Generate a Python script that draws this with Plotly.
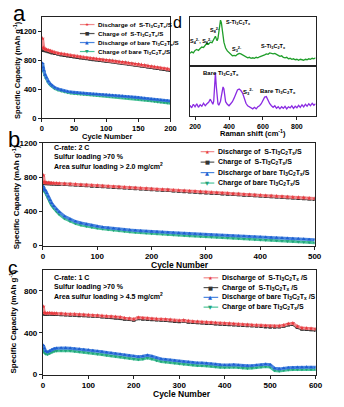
import plotly.graph_objects as go

W, H = 344, 407

# ---------------- data ----------------
# Panel a (cycling, 200 cycles)
a_cycles = [1, 2, 3, 5, 7, 10, 13, 16, 20, 25, 30, 35, 40, 45, 50, 55, 60, 65, 70, 75, 80, 85, 90, 95, 100,
            105, 110, 115, 120, 125, 130, 135, 140, 145, 150, 155, 160, 165, 170, 175, 180, 185, 190, 195, 200]
a_dis_S = [1100, 975, 962, 952, 946, 937, 928, 918, 908,
           898, 890, 882, 874, 866, 859, 853, 846, 840, 835, 829, 823, 818, 813, 808, 803, 798, 793, 787, 781,
           775, 770, 764, 757, 751, 745, 738, 731, 724, 716, 709, 702, 695, 688, 681, 673]
a_chg_S = [940, 945, 940, 935, 930, 922, 914, 905, 896,
           886, 878, 870, 862, 855, 848, 842, 836, 830, 824, 818, 812, 807, 802, 797, 792, 787, 782, 776, 770,
           764, 758, 752, 746, 740, 733, 726, 719, 712, 705, 698, 691, 684, 677, 670, 663]
a_dis_bare = [760, 700, 660, 600, 560, 510, 475, 450, 425,
              405, 390, 378, 370, 362, 356, 352, 348, 345, 342, 338, 335, 333, 330, 328, 325, 322, 318, 315, 311,
              307, 303, 299, 295, 291, 287, 282, 277, 272, 267, 262, 257, 252, 248, 244, 240]
a_chg_bare = [740, 680, 640, 585, 545, 495, 462, 438, 412,
              392, 378, 366, 358, 350, 344, 340, 336, 333, 330, 326, 322, 319, 316, 313, 310, 306, 302, 298, 294,
              290, 285, 280, 276, 271, 266, 260, 254, 248, 242, 236, 230, 225, 220, 215, 210]

# Panel b (2 C, 500 cycles)
b_cycles = [1, 2, 3, 5, 7, 10, 13, 16, 20, 25, 30,
            40, 50, 60, 70, 80, 90, 100, 110, 120, 130, 140, 150, 160, 170, 180, 190, 200, 210, 220, 230,
            240, 250, 260, 270, 280, 290, 300, 310, 320, 330, 340, 350, 360, 370, 380, 390, 400, 410, 420, 430,
            440, 450, 460, 470, 480, 490, 500]
b_dis_S = [820, 742, 736, 735, 734, 733, 731, 730, 729, 727, 726,
           722, 719, 716, 711, 708, 704, 701, 696, 693, 689, 686, 681, 678, 674, 670, 667, 662, 659, 655, 652,
           647, 644, 640, 636, 633, 628, 625, 621, 618, 613, 610, 606, 603, 598, 595, 591, 588, 583, 580, 576,
           573, 568, 565, 561, 558, 553, 549]
b_chg_S = [725, 735, 728, 727, 726, 725, 724, 723, 721, 720, 718,
           715, 712, 709, 704, 701, 697, 694, 689, 686, 682, 679, 674, 671, 667, 663, 660, 655, 652, 648, 645,
           640, 637, 633, 629, 626, 621, 618, 614, 611, 606, 603, 599, 596, 591, 588, 584, 581, 576, 573, 569,
           566, 561, 558, 554, 551, 546, 542]
b_dis_bare = [690, 662, 652, 642, 612, 572, 532, 497, 462, 422, 392,
              340, 306, 281, 263, 248, 236, 225, 215, 207, 200, 193, 187, 182, 177, 172, 168, 164, 160, 157, 153,
              150, 146, 143, 140, 136, 133, 130, 127, 124, 121, 118, 115, 112, 109, 106, 103, 100, 97, 94, 91,
              88, 85, 81, 78, 75, 71, 68]
b_chg_bare = [672, 647, 632, 617, 587, 547, 507, 472, 437, 397, 367,
              316, 283, 258, 240, 226, 214, 204, 195, 187, 180, 173, 167, 161, 156, 151, 146, 142, 138, 134, 130,
              126, 122, 118, 114, 111, 107, 104, 100, 97, 93, 90, 86, 83, 79, 76, 72, 69, 65, 62, 58,
              55, 51, 48, 44, 41, 37, 34]

# Panel c (1 C, 600 cycles)
c_cycles = [1, 3, 6, 10, 15, 20, 25, 30,
            40, 50, 60, 70, 80, 90, 100, 110, 120, 130, 140, 150, 160, 170, 180, 190, 200, 210, 220, 230,
            240, 250, 260, 270, 280, 290, 300, 310, 320, 330, 340, 350, 360, 370, 380, 390, 400, 410, 420, 430,
            440, 450, 460, 470, 480, 490, 500, 510, 520, 530, 540, 550, 560, 570, 580, 590, 600]
c_dis_S = [650, 592, 586, 588, 590, 587, 585, 585,
           583, 580, 578, 577, 574, 572, 570, 568, 565, 562, 558, 556, 552, 548, 540, 537, 530, 545, 540, 538,
           535, 532, 530, 528, 525, 518, 515, 520, 512, 508, 506, 503, 500, 498, 495, 492, 490, 488, 485, 482,
           480, 477, 474, 472, 470, 466, 463, 462, 465, 472, 485, 490, 460, 445, 442, 440, 435]
c_chg_S = [600, 580, 578, 580, 582, 580, 578, 578,
           575, 572, 570, 569, 566, 564, 562, 560, 557, 554, 550, 548, 544, 540, 532, 529, 522, 537, 532, 530,
           527, 524, 522, 520, 517, 510, 507, 512, 504, 500, 498, 495, 492, 490, 487, 484, 482, 480, 477, 474,
           472, 469, 466, 464, 462, 458, 455, 454, 457, 464, 477, 482, 452, 437, 434, 432, 427]
c_dis_bare = [280, 250, 225, 215, 225, 240, 248, 252,
              255, 254, 252, 248, 244, 240, 236, 230, 224, 218, 212, 206, 200, 195, 188, 182, 176, 170, 175, 185,
              175, 160, 150, 145, 140, 135, 128, 124, 120, 116, 112, 110, 108, 104, 98, 94, 90, 92, 95, 90,
              86, 84, 86, 90, 94, 100, 95, 60, 55, 62, 66, 68, 70, 70, 72, 70, 70]
c_chg_bare = [240, 215, 200, 195, 205, 218, 225, 228,
              230, 229, 227, 223, 219, 215, 210, 204, 198, 192, 186, 180, 174, 169, 162, 156, 150, 145, 150, 160,
              150, 135, 126, 121, 116, 111, 104, 100, 96, 92, 88, 86, 84, 80, 75, 71, 68, 70, 72, 68,
              64, 62, 64, 68, 72, 78, 72, 40, 35, 42, 46, 48, 50, 50, 52, 50, 50]

# Panel d (Raman, normalised intensity within each sub-panel)
raman_x = [170, 180, 190, 200, 210, 220, 230, 240, 250, 260, 270, 280, 290, 300,
           305, 310, 315, 320, 325, 330, 335, 340, 345, 350, 355, 360, 365, 370, 375, 380,
           390, 400, 410, 420, 430, 440, 450, 460, 470, 480, 490, 500, 510, 520, 530, 540, 550, 560, 570, 580,
           590, 600, 610, 620, 630, 640, 650, 660, 670, 680, 690, 700, 710, 720, 730, 740, 750, 760, 770, 780,
           790, 800, 810, 820, 830, 840, 850, 860, 870, 880, 890, 900, 910]
raman_S = [0.25, 0.28, 0.26, 0.31, 0.33, 0.31, 0.35, 0.38, 0.37, 0.42, 0.46, 0.44, 0.48, 0.47,
           0.50, 0.54, 0.58, 0.60, 0.55, 0.51, 0.56, 0.68, 0.84, 0.93, 0.88, 0.72, 0.58, 0.48, 0.42, 0.36,
           0.30, 0.26, 0.22, 0.20, 0.21, 0.20, 0.23, 0.25, 0.24, 0.22, 0.19, 0.17, 0.16, 0.17, 0.15, 0.16,
           0.15, 0.17, 0.16, 0.18, 0.19, 0.21, 0.22, 0.24, 0.23, 0.26, 0.25, 0.24, 0.25, 0.22, 0.21, 0.19,
           0.20, 0.17, 0.16, 0.17, 0.14, 0.15, 0.13, 0.14, 0.12, 0.13, 0.11, 0.13, 0.12, 0.11, 0.13, 0.12,
           0.14, 0.13, 0.15, 0.14, 0.16]
raman_bare = [0.22, 0.17, 0.24, 0.19, 0.25, 0.18, 0.23, 0.20, 0.26, 0.21, 0.25, 0.28, 0.34, 0.27,
              0.24, 0.30, 0.52, 0.86, 0.60, 0.34, 0.25, 0.22, 0.26, 0.30, 0.40, 0.52, 0.58, 0.54, 0.40, 0.29,
              0.24, 0.21, 0.25, 0.29, 0.36, 0.46, 0.52, 0.54, 0.51, 0.46, 0.34, 0.26, 0.21, 0.19, 0.16, 0.15,
              0.18, 0.15, 0.19, 0.21, 0.25, 0.32, 0.38, 0.39, 0.30, 0.25, 0.21, 0.18, 0.21, 0.16, 0.19, 0.15,
              0.19, 0.16, 0.20, 0.15, 0.19, 0.17, 0.21, 0.16, 0.20, 0.17, 0.22, 0.18, 0.23, 0.19, 0.24, 0.20,
              0.25, 0.21, 0.26, 0.22, 0.25]

TIX = "Ti<sub>3</sub>C<sub>2</sub>T<sub>x</sub>"
series_names = [f"Discharge of  S-{TIX}/S", f"Charge of  S-{TIX}/S",
                f"Discharge of bare {TIX}/S", f"Charge of bare {TIX}/S"]
series_names_c = [f"Discharge of  S-{TIX} /S", f"Charge of  S-{TIX} /S",
                  f"Discharge of bare {TIX} /S", f"Charge of bare {TIX}/S"]
colors = ["#e8383d", "#333333", "#1f5fd0", "#22a37a"]
fills = ["#f08a8d", "#555555", "#4a86e0", "#4cc49a"]
symbols = ["star", "square", "triangle-up", "triangle-down"]
glyphs = ["\u2605", "\u25A0", "\u25B2", "\u25BC"]

FONT = "Liberation Sans, Arial, sans-serif"


def px(x):
    return x / W


def py(y):
    return 1 - y / H


fig = go.Figure()

panels = [
    ("x", "y", a_cycles, [a_dis_S, a_chg_S, a_dis_bare, a_chg_bare]),
    ("x4", "y4", b_cycles, [b_dis_S, b_chg_S, b_dis_bare, b_chg_bare]),
    ("x5", "y5", c_cycles, [c_dis_S, c_chg_S, c_dis_bare, c_chg_bare]),
]
draw_order = [1, 0, 3, 2]
for xa, ya, cyc, ser in panels:
    for i in draw_order:
        fig.add_trace(go.Scatter(
            x=cyc, y=ser[i], xaxis=xa, yaxis=ya, mode="lines+markers",
            line=dict(color=fills[i], width=3),
            marker=dict(symbol=symbols[i], size=3.5, color=colors[i], line=dict(width=0)),
            showlegend=False, hoverinfo="skip"))

fig.add_trace(go.Scatter(x=raman_x, y=raman_S, xaxis="x2", yaxis="y2", mode="lines",
                         line=dict(color="#1f9e2a", width=1.3), showlegend=False))
fig.add_trace(go.Scatter(x=raman_x, y=raman_bare, xaxis="x3", yaxis="y3", mode="lines",
                         line=dict(color="#8a2be2", width=1.3), showlegend=False))


def axis(domain, rng, dtick=None, showlabels=True, size=8, ticks="outside", anchor=None):
    d = dict(domain=domain, range=rng, showgrid=False, zeroline=False, showline=True,
             linecolor="#222", linewidth=1, mirror=True, ticks=ticks, ticklen=3, tickwidth=1,
             tickcolor="#222", showticklabels=showlabels,
             tickfont=dict(family=FONT, size=size, color="black", weight="bold"))
    if dtick is not None:
        d["dtick"] = dtick
        d["tick0"] = 0
    if anchor:
        d["anchor"] = anchor
    return d


fig.update_layout(
    width=W, height=H, margin=dict(l=0, r=0, t=0, b=0),
    paper_bgcolor="white", plot_bgcolor="white", showlegend=False,
    xaxis=axis([px(41), px(173)], [0, 200], 50, size=7.5, anchor="y"),
    yaxis=axis([py(117), py(13)], [0, 1400], 400, size=7.5, anchor="x"),
    xaxis2=axis([px(193), px(322)], [170, 910], 200, showlabels=False, ticks="", anchor="y2"),
    yaxis2=axis([py(63), py(13)], [0, 1], showlabels=False, ticks="", anchor="x2"),
    xaxis3=axis([px(193), px(322)], [170, 910], 200, size=7, anchor="y3"),
    yaxis3=axis([py(115), py(63)], [0, 1], showlabels=False, ticks="", anchor="x3"),
    xaxis4=axis([px(42), px(321)], [0, 500], 100, size=8, anchor="y4"),
    yaxis4=axis([py(247), py(142)], [0, 1200], 400, size=8, anchor="x4"),
    xaxis5=axis([px(42), px(322)], [0, 600], 100, size=8, anchor="y5"),
    yaxis5=axis([py(379), py(272)], [0, 1000], 400, size=8, anchor="x5"),
)

ann = []


def text(x, y, s, size=8, bold=True, color="black", xanchor="center", yanchor="middle", angle=0, family=FONT):
    ann.append(dict(x=px(x), y=py(y), xref="paper", yref="paper", text=s, showarrow=False,
                    xanchor=xanchor, yanchor=yanchor, textangle=angle,
                    font=dict(family=family, size=size, color=color, weight="bold" if bold else "normal")))


# panel letters
text(18, 10, "a", size=22, bold=False)
text(12, 139, "b", size=22, bold=False)
text(11, 269, "c", size=19, bold=False)
text(180, 19, "d", size=16, bold=False)

ytitle = "Specific Capacity (mAh g<sup>-1</sup>)"
text(16, 68, ytitle, size=7.5, angle=-90)
text(14, 198, ytitle, size=8, angle=-90)
text(11, 325, ytitle, size=8, angle=-90)
text(108, 135.5, "Cycle Number", size=7.5)
text(183, 266.5, "Cycle Number", size=8.5)
text(185, 399, "Cycle Number", size=8.5)
text(258, 132, "Raman shift (cm<sup>-1</sup>)", size=7.5)

# condition texts
for y0, lines in [(147, ["C-rate: 2 C", "Sulfur loading >70 %", "Area sulfur loading > 2.0 mg/cm<sup>2</sup>"]),
                  (280, ["C-rate: 1 C", "Sulfur loading >70 %", "Area sulfur loading > 4.5 mg/cm<sup>2</sup>"])]:
    for k, s in enumerate(lines):
        text(51, y0 + k * 9.6, s, size=7, xanchor="left")

# Raman labels
SM = 5.5


def rlabel(cm, y, s, size=SM, xanchor="center"):
    x = 193 + (cm - 170) / (910 - 170) * (322 - 193)
    text(x, y, s, size=size, xanchor=xanchor)


rlabel(234, 38, "S<sub>4</sub><sup>2-</sup>, S<sub>6</sub><sup>2-</sup>")
rlabel(318, 27, "S<sub>8</sub><sup>2-</sup>")
rlabel(368, 19, "S-" + TIX, xanchor="left")
rlabel(450, 47, "S<sub>3</sub><sup>2-</sup>")
rlabel(660, 43, "S-" + TIX)
rlabel(352, 71, "Bare " + TIX, size=6)
rlabel(514, 89, "S<sub>3</sub><sup>2-</sup>", size=6)
rlabel(690, 89, "Bare " + TIX, size=6)

# manual legends
shapes = []


def legend(x0, y0, dy, seglen, size, names):
    for k in range(4):
        yk = y0 + k * dy
        shapes.append(dict(type="line", xref="paper", yref="paper", x0=px(x0), x1=px(x0 + seglen),
                           y0=py(yk), y1=py(yk), line=dict(color=fills[k], width=1.2)))
        text(x0 + seglen / 2, yk, glyphs[k], size=size * 0.75, bold=False, color=colors[k],
             family="DejaVu Sans")
        text(x0 + seglen + 2, yk, names[k], size=size, xanchor="left")


legend(80, 21, 9.2, 15, 6.2, series_names)
legend(204, 151, 10.7, 14, 7, series_names)
legend(207, 280, 10, 15, 7, series_names_c)

fig.update_layout(annotations=ann, shapes=shapes)
fig.write_html("out.html")
